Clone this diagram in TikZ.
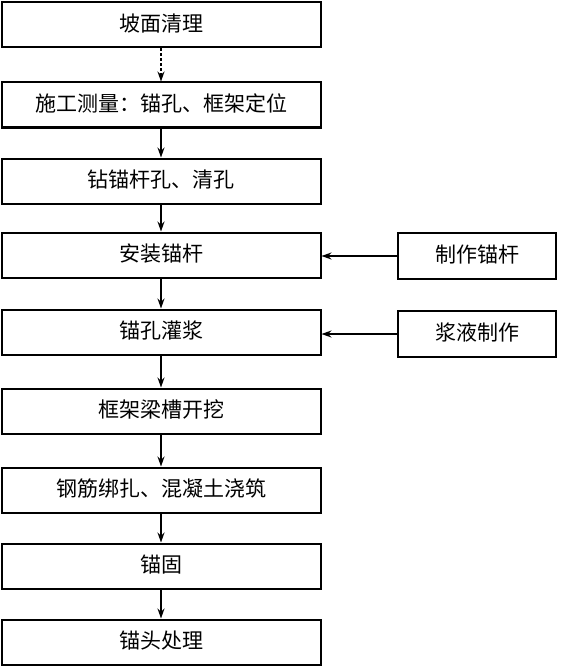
\documentclass[tikz,border=0pt]{standalone}
\usepackage{fontspec}
\setmainfont{Noto Sans CJK SC}
\usepackage{tikz}
\usetikzlibrary{arrows.meta,positioning}

\tikzset{
  stepbox/.style={draw=black, line width=2pt, minimum width=319pt, minimum height=45pt,
    inner sep=0pt, text height=17pt, text depth=4pt, font=\fontsize{21}{24}\selectfont},
  sidebox/.style={stepbox, minimum width=158pt, minimum height=46pt},
  flow/.style={line width=1.8pt, -{Stealth[length=10pt,width=7pt]}}
}

\begin{document}
\begin{tikzpicture}[x=1pt, y=-1pt]
  \useasboundingbox (0,0) rectangle (562,666);

  % Main sequence
  \node[stepbox] (s1) at (161, 25)  {坡面清理};
  \node[stepbox] (s2) at (161, 105) {施工测量：锚孔、框架定位};
  \node[stepbox] (s3) at (161, 181) {钻锚杆孔、清孔};
  \node[stepbox] (s4) at (161, 255) {安装锚杆};
  \node[stepbox] (s5) at (161, 332) {锚孔灌浆};
  \node[stepbox] (s6) at (161, 411) {框架梁槽开挖};
  \node[stepbox] (s7) at (161, 490) {钢筋绑扎、混凝土浇筑};
  \node[stepbox] (s8) at (161, 566) {锚固};
  \node[stepbox] (s9) at (161, 642) {锚头处理};

  % Side preparation
  \node[sidebox] (p1) at (477, 256) {制作锚杆};
  \node[sidebox] (p2) at (477, 334) {浆液制作};

  % Arrows
  \draw[flow, densely dashed] (s1) -- (s2);
  \foreach \a/\b in {s2/s3, s3/s4, s4/s5, s5/s6, s6/s7, s7/s8, s8/s9}
    \draw[flow] (\a) -- (\b);
  \draw[flow, line width=2.4pt] (p1.west) -- (s4.east |- p1.west);
  \draw[flow, line width=2.4pt] (p2.west) -- (s5.east |- p2.west);

\end{tikzpicture}
\end{document}
